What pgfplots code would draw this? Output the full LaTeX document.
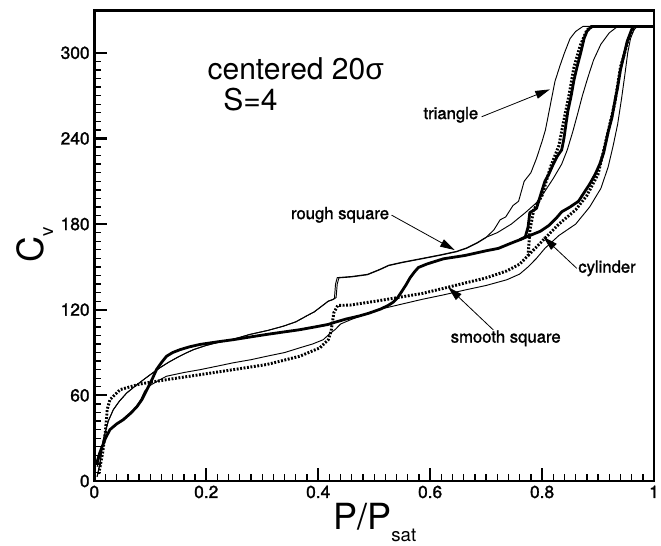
\documentclass[border=0pt]{standalone}
\usepackage{fontspec}
\setmainfont{TeX Gyre Heros}
\newfontfamily\heavyfont[FakeBold=1.5]{TeX Gyre Heros}
\newfontfamily\greekfont{Liberation Sans}
\usepackage{pgfplots}
\pgfplotsset{compat=1.18}
\usetikzlibrary{arrows.meta}

\tikzset{
  thinln/.style={black, line width=0.7pt, line join=round},
  thickln/.style={black, line width=2.1pt, line join=round},
  dotln/.style={black, line width=2.2pt, dash pattern=on 1.4pt off 1.2pt},
  lbl/.style={font=\heavyfont\fontsize{12.5}{13}\selectfont, inner sep=0pt},
  arr/.style={-{Triangle[length=11pt,width=6pt]}, line width=0.6pt, black},
}

\begin{document}
\begin{tikzpicture}[x=0.75pt,y=0.75pt]
\useasboundingbox (0,0) rectangle (661,546);
\begin{axis}[
  at={(70.725pt,48.75pt)}, anchor=south west,
  scale only axis, width=419.8pt, height=352.7pt,
  xmin=0, xmax=1, ymin=0, ymax=329.5,
  xtick={0,0.2,0.4,0.6,0.8,1}, ytick={0,60,120,180,240,300},
  minor x tick num=9, minor y tick num=9,
  tick align=inside, tick pos=left,
  major tick length=9.5pt, minor tick length=5pt,
  every major tick/.append style={line width=1.6pt, black},
  every minor tick/.append style={line width=1pt, black},
  axis line style={line width=2pt},
  ticklabel style={font=\heavyfont\fontsize{13}{13}\selectfont},
  /pgf/number format/assume math mode=true,
  /pgf/number format/fixed,
  clip=true,
]

% triangle (thin)
\addplot[thinln] coordinates {
(0.005,3) (0.01,12) (0.016,28.8) (0.025,42) (0.034,50) (0.045,56) (0.058,61.7) (0.073,66.5) (0.088,71) (0.1,74.5) (0.117,79.3) (0.132,83) (0.147,86.3) (0.162,89.3) (0.177,92) (0.2,95) (0.219,96.9) (0.25,99.5) (0.278,102.7) (0.31,105.5) (0.338,108.5) (0.36,111.5) (0.379,115.6) (0.393,118.5) (0.403,121.5) (0.418,126) (0.428,127.5) (0.432,128.5) (0.434,138) (0.437,142.3) (0.46,143) (0.488,144.5) (0.51,148) (0.526,150.9) (0.55,153) (0.586,155.7) (0.62,158.3) (0.647,160.6) (0.665,163) (0.684,166.7) (0.699,170.3)
(0.714,176) (0.725,183) (0.735,185) (0.748,193) (0.758,196) (0.768,210) (0.78,216) (0.79,226) (0.8,238) (0.806,246) (0.814,262) (0.823,280) (0.832,291) (0.84,300) (0.85,310) (0.86,315) (0.873,318.5) (0.89,318.5) (1,318.5)
};
% rough square (thin)
\addplot[thinln] coordinates {
(0.005,3) (0.01,12) (0.016,28.8) (0.025,42) (0.034,50) (0.045,56) (0.058,61.7) (0.073,66.5) (0.088,71) (0.1,74.5) (0.117,79.3) (0.132,83) (0.147,86.3) (0.162,89.3) (0.177,92) (0.2,95) (0.219,96.9) (0.25,99.5) (0.278,102.7) (0.31,105.5) (0.338,108.5) (0.36,111.5) (0.379,115.6) (0.393,118.5) (0.403,121.5) (0.418,126) (0.426,127) (0.429,128) (0.431,138) (0.434,142.5) (0.46,143.3) (0.488,144.8) (0.51,148.3) (0.526,151.2) (0.55,153.3) (0.586,156) (0.62,158.6) (0.647,160.9) (0.665,163.3) (0.684,167) (0.699,170.6)
(0.72,174) (0.745,180) (0.77,188) (0.79,195) (0.805,203) (0.82,212) (0.835,222) (0.845,232) (0.855,245) (0.864,258) (0.872,270) (0.882,283) (0.892,295) (0.905,306) (0.92,314) (0.935,318.5) (1,318.5)
};
% lower thin curve
\addplot[thinln] coordinates {
(0.005,10) (0.015,25) (0.028,36) (0.04,40) (0.05,43) (0.062,47) (0.075,52) (0.083,57) (0.09,63) (0.1,67) (0.115,70.5) (0.129,73.4) (0.16,76) (0.189,78) (0.22,80.5) (0.248,82.8) (0.28,85) (0.308,87.4) (0.34,90) (0.367,93.3) (0.39,96) (0.409,99) (0.42,103) (0.43,106) (0.44,110) (0.458,113) (0.485,117) (0.511,120.4) (0.55,124) (0.586,127.3) (0.625,130.5) (0.662,133.8) (0.7,137) (0.737,141) (0.76,145) (0.775,150) (0.79,156) (0.805,163) (0.83,172) (0.86,180) (0.885,192) (0.905,205) (0.918,220) (0.927,235) (0.935,250) (0.942,268) (0.948,285) (0.953,300) (0.958,310) (0.964,316) (0.97,318.5) (1,318.5)
};
% cylinder, left branch (thick)
\addplot[thickln] coordinates {
(0.004,12) (0.01,20) (0.02,30) (0.028,36) (0.04,40) (0.052,43) (0.065,47.5) (0.076,52) (0.085,57) (0.094,64) (0.103,71) (0.111,78) (0.12,83) (0.129,87.4) (0.14,90) (0.153,92) (0.17,94) (0.189,95.7) (0.22,97.5) (0.248,99) (0.28,101) (0.308,102.7) (0.34,104.5) (0.367,106) (0.395,108) (0.418,109.7) (0.428,111) (0.45,113.5) (0.473,115.6) (0.49,117.5) (0.511,120.4) (0.525,123) (0.534,125.3) (0.542,128.5) (0.549,132.6) (0.557,137.5) (0.564,142.3) (0.572,146.5) (0.579,149.6) (0.594,152) (0.61,154) (0.624,155.7) (0.662,158) (0.7,161.3) (0.722,163) (0.745,166.7) (0.76,169)
(0.77,171) (0.775,178) (0.778,188) (0.79,191) (0.797,200) (0.805,210) (0.812,215) (0.82,222) (0.827,227.5) (0.835,232) (0.839,240) (0.846,259) (0.852,270) (0.857,281) (0.863,291) (0.869,300) (0.875,310) (0.88,315) (0.888,318.5) (1,318.5)
};
% cylinder, right branch (thick)
\addplot[thickln] coordinates {
(0.76,169) (0.775,171.5) (0.797,175) (0.812,179) (0.825,184) (0.835,188.6) (0.85,192) (0.865,196) (0.875,202) (0.885,208) (0.895,215) (0.903,222) (0.91,230) (0.918,244.5) (0.925,255) (0.929,264) (0.935,276) (0.94,288) (0.946,298) (0.952,308) (0.96,316.3) (0.965,318.5) (1,318.5)
};
% smooth square, left branch (dotted)
\addplot[dotln] coordinates {
(0.008,5) (0.015,20) (0.02,35) (0.023,50) (0.028,57) (0.046,64) (0.082,68) (0.129,71) (0.189,74.5) (0.248,78) (0.308,81.6) (0.367,87.4) (0.403,93.3) (0.418,99) (0.423,105) (0.428,118) (0.435,123) (0.458,123.3) (0.511,126.5) (0.549,129) (0.586,131.4) (0.624,135) (0.662,138.7) (0.7,142.3) (0.737,147.2) (0.76,152) (0.775,158)
(0.778,175) (0.785,190) (0.8,200) (0.815,220) (0.83,235) (0.84,255) (0.848,270) (0.857,290) (0.868,305) (0.88,316) (0.89,318.5)
};
% smooth square, right branch (dotted)
\addplot[dotln] coordinates {
(0.775,158) (0.8,168) (0.83,180) (0.86,190) (0.88,200) (0.9,215) (0.915,240) (0.93,265) (0.94,290) (0.955,310) (0.965,318.5)
};

% annotations
\node[lbl] at (axis cs:0.637,256.6) {triangle};
\draw[arr] (axis cs:0.692,255.2) -- (axis cs:0.814,274.4);
\node[lbl] at (axis cs:0.439,186.5) {rough square};
\draw[arr] (axis cs:0.531,186.3) -- (axis cs:0.644,161.8);
\node[lbl] at (axis cs:0.916,149) {cylinder};
\draw[arr] (axis cs:0.862,149) -- (axis cs:0.802,171.1);
\node[lbl] at (axis cs:0.735,100) {smooth square};
\draw[arr] (axis cs:0.713,105.8) -- (axis cs:0.632,135.9);

\node[anchor=base west, inner sep=0pt, font=\fontsize{22.5}{24}\selectfont] at (axis cs:0.202,281.6) {centered 20{\greekfont σ}};
\node[anchor=base west, inner sep=0pt, font=\fontsize{22.5}{24}\selectfont] at (axis cs:0.230,259.9) {S=4};
\end{axis}

% axis titles
\node[anchor=base west, inner sep=0pt, font=\fontsize{27}{28}\selectfont] at (333,16) {P/P\raisebox{-8.8pt}{\fontsize{14}{14}\selectfont sat}};
\node[rotate=90, anchor=base west, inner sep=0pt, font=\fontsize{27}{28}\selectfont] at (43,283) {C\raisebox{-7.5pt}{\fontsize{14}{14}\selectfont v}};
\end{tikzpicture}
\end{document}
